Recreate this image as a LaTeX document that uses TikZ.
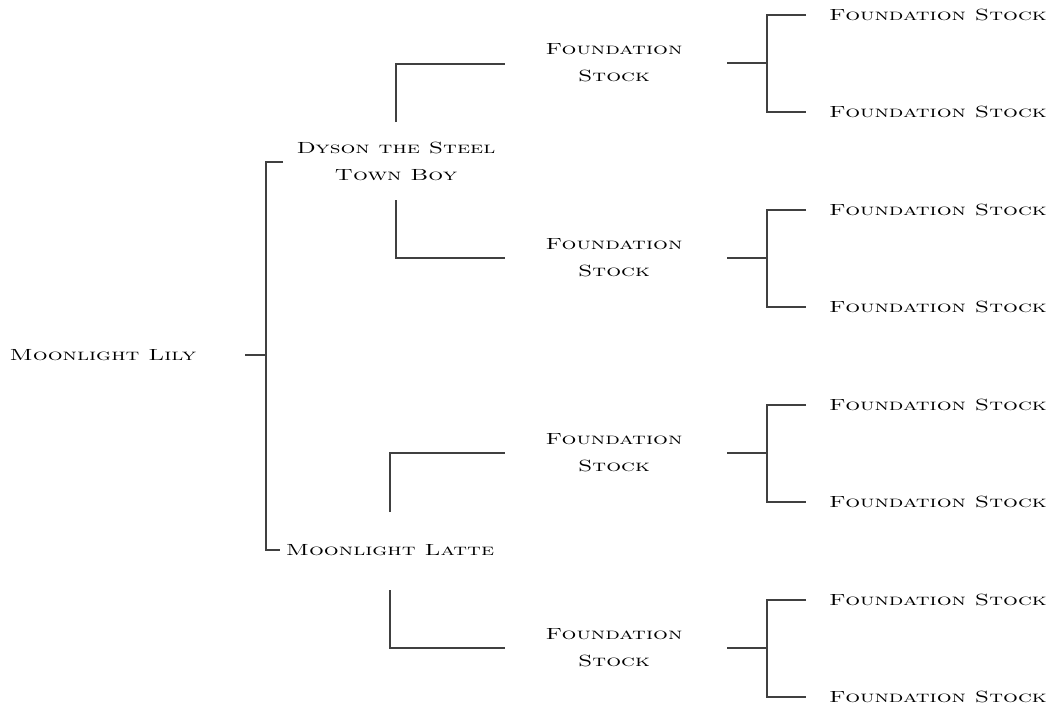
\documentclass[tikz,border=0pt]{standalone}
\usepackage{graphicx}
\usetikzlibrary{calc}

\newcommand{\hname}[1]{\scalebox{1.45}[1]{\textsc{#1}}}

\begin{document}
\begin{tikzpicture}[x=0.025cm, y=-0.025cm,
        horse/.style={font=\fontsize{11.5}{19.2}\selectfont, align=center, inner sep=0pt},
        link/.style={draw=black!75, line width=0.9pt}]
                \useasboundingbox (0,0) rectangle (1055,710);

                % the mare and her parents
                \node (lily) [horse] at (103,355) {\hname{Moonlight Lily}};
                \node (dyson) [horse] at (396,161) {\hname{Dyson the Steel}\\\hname{Town Boy}};
                \node (latte) [horse] at (390,550) {\hname{Moonlight Latte}};

                \draw [link] ($(lily)+(142,0)$) -- ($(lily)+(163,0)$);
                \draw [link] ($(dyson)+(-113,1)$) -| ($(lily)+(163,0)$) |- ($(latte)+(-110,0)$);

                % grandparents and great grandparents
                \foreach \i/\y in {1/63,2/258,3/453,4/648} {
                    \node (fs\i) [horse] at (614,\y) {\hname{Foundation}\\\hname{Stock}};
                    \node (top\i) [horse] at (938,\y-48) {\hname{Foundation Stock}};
                    \node (bot\i) [horse] at (938,\y+49) {\hname{Foundation Stock}};
                    \draw [link] ($(fs\i)+(113,0)$) -- ($(fs\i)+(153,0)$);
                    \draw [link] ($(top\i)+(-132,0)$) -| ($(fs\i)+(153,0)$) |- ($(bot\i)+(-132,0)$);
                }

                \draw [link] ($(dyson)+(0,-39)$) |- ($(fs1)+(-109,1)$);
                \draw [link] ($(dyson)+(0,39)$) |- ($(fs2)+(-109,0)$);
                \draw [link] ($(latte)+(0,-38)$) |- ($(fs3)+(-109,0)$);
                \draw [link] ($(latte)+(0,40)$) |- ($(fs4)+(-109,0)$);
            \end{tikzpicture}
\end{document}
